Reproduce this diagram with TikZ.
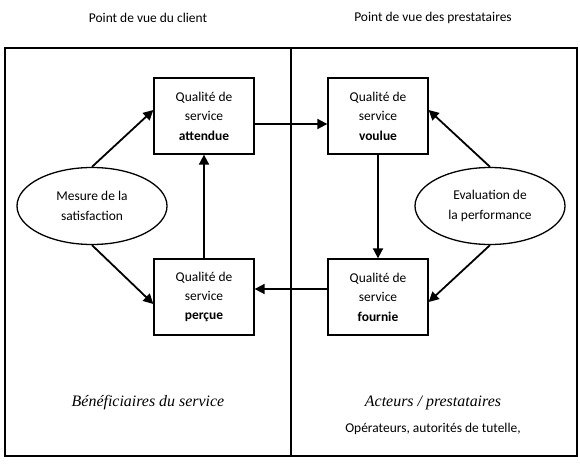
\documentclass[tikz,border=0pt]{standalone}
\usepackage{fontspec}
\setmainfont{Carlito}
\newfontfamily\serifit{Liberation Serif}
\usetikzlibrary{arrows.meta,shapes.geometric}
\begin{document}
\begin{tikzpicture}[x=1bp,y=-1bp,
  qbox/.style={draw,line width=1.3bp,minimum width=100bp,minimum height=76bp,align=center,font=\fontsize{13.5}{19.5}\selectfont,inner sep=0pt},
  oval/.style={draw,ellipse,line width=1.3bp,minimum width=150bp,minimum height=77bp,align=center,font=\fontsize{13.5}{19.5}\selectfont,inner sep=0pt},
  arr/.style={line width=1.8bp,-{Triangle[length=10bp,width=10bp]}},
  lbl/.style={font=\fontsize{13.5}{16}\selectfont},
  itlbl/.style={font=\serifit\itshape\fontsize{16}{18}\selectfont}
]
\useasboundingbox (0,0) rectangle (580,468);
\draw[line width=1.3bp] (5,48) rectangle (577,456);
\draw[line width=1.3bp] (291,48) -- (291,456);
\node[lbl] (t1) at (148,18) {Point de vue du client};
\node[lbl] (t2) at (433,18) {Point de vue des prestataires};
\node[qbox] (att) at (204,116) {Qualité de\\service\\\textbf{attendue}};
\node[qbox] (vou) at (378,116) {Qualité de\\service\\\textbf{voulue}};
\node[qbox] (per) at (204,297) {Qualité de\\service\\\textbf{perçue}};
\node[qbox] (fou) at (378,297) {Qualité de\\service\\\textbf{fournie}};
\node[oval] (mes) at (92,206) {Mesure de la\\satisfaction};
\node[oval] (eva) at (490,206) {Evaluation de\\la performance};
\coordinate (attL) at ([yshift=6bp]att.west);
\coordinate (vouR) at ([yshift=6bp]vou.east);
\coordinate (perL) at ([yshift=-7bp]per.west);
\coordinate (fouR) at ([yshift=-5bp]fou.east);
\draw[arr] (mes.north) -- (attL);
\draw[arr] (mes.south) -- (perL);
\draw[arr] (eva.north) -- (vouR);
\draw[arr] (eva.south) -- (fouR);
\draw[arr] ([yshift=-8bp]att.east) -- ([yshift=-8bp]vou.west);
\draw[arr] (per.north) -- (att.south);
\draw[arr] (vou.south) -- (fou.north);
\draw[arr] ([yshift=8bp]fou.west) -- ([yshift=8bp]per.east);
\node[itlbl] (ben) at (148,403) {Bénéficiaires du service};
\node[itlbl] (act) at (433,403) {Acteurs / prestataires};
\node[lbl] (ope) at (433,429) {Opérateurs, autorités de tutelle,};
\end{tikzpicture}
\end{document}
